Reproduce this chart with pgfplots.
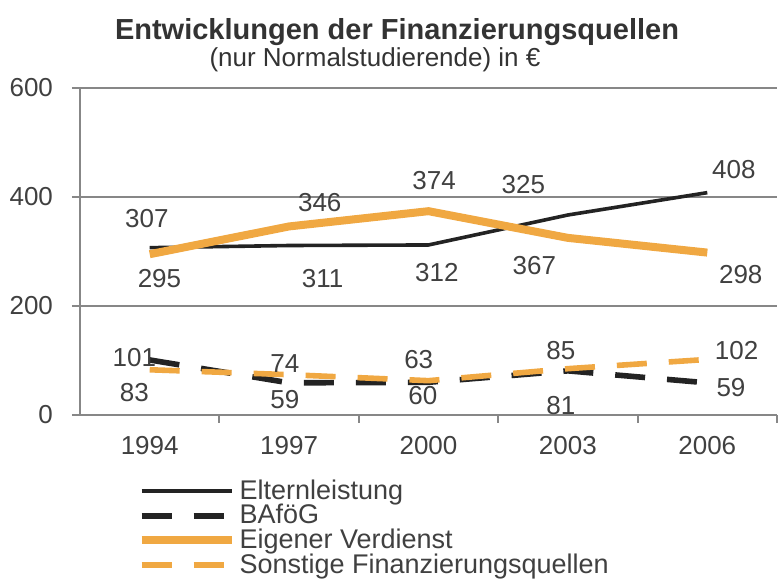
\documentclass[border=0pt]{standalone}
\usepackage{fontspec}
\setmainfont{Liberation Sans}
\usepackage{pgfplots}
\pgfplotsset{compat=1.18}
\definecolor{orng}{RGB}{240,168,66}
\definecolor{blk}{RGB}{35,35,35}
\definecolor{gridg}{RGB}{135,135,135}

% label positions (x = category index, y = value position)
\pgfplotstableread{
x y t
-0.02 361 307
0.07 251 295
1.22 389 346
1.24 251 311
2.04 431 374
2.06 261 312
2.68 422 325
2.76 275 367
4.19 450 408
4.24 257 298
-0.11 106 101
-0.11 42 83
0.97 95 74
0.97 28 59
1.93 101 63
1.96 35 60
2.95 119 85
2.95 18 81
4.21 119 102
4.17 51 59
}\labels

\begin{document}
\begin{tikzpicture}
\useasboundingbox (-40pt,-84pt) rectangle (351.5pt,207.5pt);
\node[font=\fontsize{14.5}{16}\selectfont\bfseries, text=black!80] at (158.5pt,191.5pt) {Entwicklungen der Finanzierungsquellen};
\node[font=\fontsize{13}{14}\selectfont, text=black!80] at (147.5pt,177.5pt) {(nur Normalstudierende) in €};
\begin{axis}[
    scale only axis,
    width=348.5pt, height=163.5pt,
    xmin=-0.5, xmax=4.5, ymin=0, ymax=600,
    axis lines*=left,
    axis line style={gridg, line width=1pt},
    xtick={0,1,2,3,4},
    xticklabels={1994,1997,2000,2003,2006},
    major x tick style={draw=none},
    minor xtick={0.5,1.5,2.5,3.5,4.5},
    minor x tick style={gridg, line width=1pt},
    minor tick length=4pt,
    ytick={0,200,400,600},
    ytick style={gridg, line width=1pt},
    major tick length=4pt,
    tick align=outside,
    ymajorgrids,
    grid style={gridg, line width=1.1pt},
    /pgf/number format/assume math mode=true,
    tick label style={font=\fontsize{13}{15}\selectfont, text=black!75},
    xticklabel style={yshift=-3pt},
    yticklabel style={xshift=-6pt},
    clip=false,
    legend style={at={(0.082,-0.185)}, anchor=north west, draw=none, fill=none,
        font=\fontsize{13.5}{11.5}\selectfont, text=black!75,
        row sep=-3pt, inner sep=0pt, cells={anchor=west}},
    legend image code/.code={\draw[#1] (0pt,0pt) -- (45pt,0pt);},
]
\addplot[blk, line width=1.8pt] coordinates {(0,307) (1,311) (2,312) (3,367) (4,408)};
\addlegendentry{Elternleistung}
\addplot[blk, line width=2.8pt, dash pattern=on 15pt off 11pt] coordinates {(0,101) (1,59) (2,60) (3,81) (4,59)};
\addlegendentry{BAföG}
\addplot[orng, line width=4pt] coordinates {(0,295) (1,346) (2,374) (3,325) (4,298)};
\addlegendentry{Eigener Verdienst}
\addplot[orng, line width=2.8pt, dash pattern=on 15pt off 11pt] coordinates {(0,83) (1,74) (2,63) (3,85) (4,102)};
\addlegendentry{Sonstige Finanzierungsquellen}
\addplot[draw=none, forget plot, nodes near coords, point meta=explicit symbolic,
    every node near coord/.style={anchor=center, font=\fontsize{13}{15}\selectfont, text=black!75}]
    table[x=x, y=y, meta=t] {\labels};
\end{axis}
\end{tikzpicture}
\end{document}
